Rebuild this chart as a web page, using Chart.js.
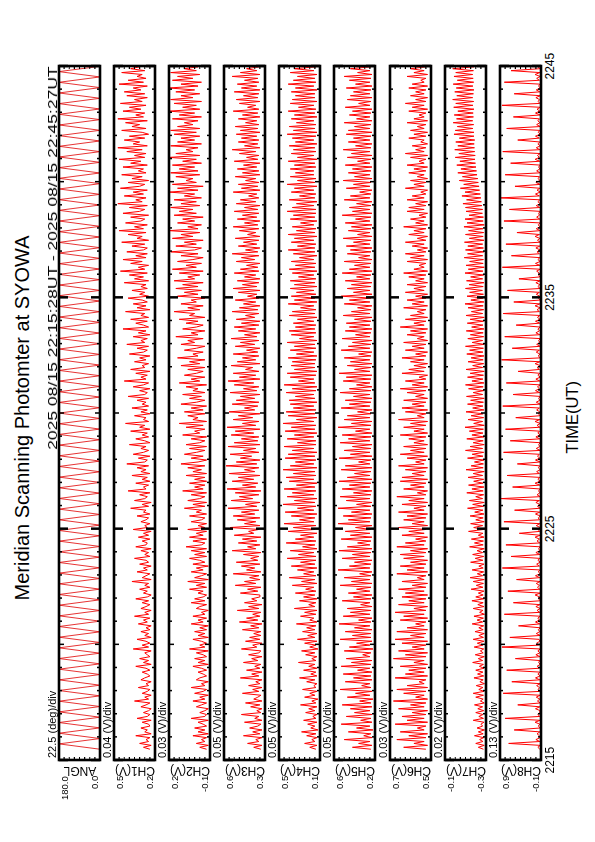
<!DOCTYPE html>
<html><head><meta charset="utf-8">
<script src="https://cdn.jsdelivr.net/npm/chart.js@4.4.1/dist/chart.umd.min.js"></script>
<style>
html,body{margin:0;padding:0;background:#fff;}
body{width:595px;height:842px;overflow:hidden;position:relative;}
#land{position:absolute;left:0;top:842px;width:842px;height:595px;transform-origin:0 0;transform:rotate(-90deg);font-family:"Liberation Sans",Arial,Helvetica,sans-serif;}
.t{position:absolute;white-space:nowrap;color:#000;line-height:1;}
canvas{position:absolute;}
</style></head><body><div id="land"></div>
<script>
// ---------- texts ----------
const TITLE = 'Meridian Scanning Photomter at SYOWA';
const PERIOD_TEXT = '2025 08/15 22:15:28UT - 2025 08/15 22:45:27UT';
const X_TITLE = 'TIME(UT)';
const TIME_TICKS = [0, 10, 20, 30];            // minutes after 22:15
const TIME_LABELS = ['2215', '2225', '2235', '2245'];
const CHANNELS = ['ANGL', 'CH1(V)', 'CH2(V)', 'CH3(V)', 'CH4(V)', 'CH5(V)', 'CH6(V)', 'CH7(V)', 'CH8(V)'];
const DIV_LABELS = ['22.5 (deg)/div', '0.04 (V)/div', '0.03 (V)/div', '0.05 (V)/div', '0.05 (V)/div', '0.05 (V)/div', '0.03 (V)/div', '0.02 (V)/div', '0.13 (V)/div'];
const TOP_LABELS = ['180.0', '0.5', '0.2', '0.6', '0.5', '0.6', '0.7', '-0.1', '0.9'];
const BOTTOM_LABELS = ['0.0', '0.2', '-0.1', '0.3', '0.1', '0.2', '0.5', '-0.3', '-0.1'];
const Y_MIN = [0, 0.19, -0.05, 0.24, 0.11, 0.20, 0.48, -0.29, -0.10];
const Y_MAX = [180, 0.51, 0.19, 0.64, 0.51, 0.60, 0.72, -0.13, 0.94];

// ---------- timing (minutes after 22:15) ----------
const SCAN_START = 28 / 60;        // 22:15:28
const SCAN_END = 30 + 27 / 60;     // 22:45:27
const SAMPLE_STEP = 5 / 60;        // photometer samples every 5 s

// ---------- data ----------
// scan angle turning points (deg), one per half scan
const ANGL_TURNS = [0,180,0,180,0,180,0,180,0,180,0,180,0,180,0,180,0,180,0,180,
0,180,0,180,0,180,0,180,0,180,0,180,0,180,0,180,0,180,0,180,
0,180,0,180,0,180,0,180,0,180,0,180,0,180,0,180,0,180,0,180,
0,180,0,180,0,180,0,180,0,180,0,180,0,180,0,180,0,180,0,180,
0,180,0,180,0,180,0,180,0,180,0,180,0,180,0,180,0,180,0,180,
0,180,0,180,0,180,0,180,0,180,0,180,0,180,0,180,0,180,0,180,
0,180,0,180,0,180,0,180,0,180,0];

const CH1 = [.23,.28,.22,.31,.24,.26,.23,.34,.22,.27,.25,.30,.23,.24,.29,.22,.33,.25,.23,.28,
.24,.22,.30,.26,.23,.35,.24,.27,.22,.29,.25,.23,.32,.24,.26,.22,.30,.27,.23,.25,
.29,.23,.26,.34,.22,.28,.24,.31,.23,.25,.27,.22,.36,.24,.29,.23,.26,.33,.22,.27,
.24,.30,.23,.26,.22,.32,.25,.28,.23,.35,.24,.27,.22,.30,.26,.23,.29,.24,.34,.25,
.22,.28,.25,.31,.23,.27,.24,.37,.22,.29,.26,.23,.33,.25,.28,.22,.31,.24,.26,.35,
.23,.27,.24,.30,.22,.34,.26,.25,.29,.23,.32,.24,.28,.22,.36,.25,.27,.23,.30,.26,
.24,.33,.23,.28,.26,.38,.24,.29,.22,.35,.27,.25,.31,.23,.40,.26,.28,.24,.34,.23,
.29,.25,.37,.23,.30,.26,.33,.24,.41,.27,.25,.32,.23,.36,.28,.24,.30,.26,.39,.23,
.27,.34,.24,.29,.25,.38,.23,.31,.27,.42,.24,.28,.26,.35,.23,.30,.25,.37,.24,.29,
.26,.33,.24,.40,.27,.25,.31,.23,.36,.28,.24,.43,.26,.30,.25,.34,.23,.38,.27,.29,
.24,.35,.26,.31,.23,.39,.28,.25,.33,.24,.41,.27,.30,.25,.36,.23,.32,.26,.44,.24,
.28,.34,.25,.38,.24,.30,.27,.42,.23,.33,.26,.36,.25,.29,.40,.24,.31,.27,.37,.25,
.30,.26,.43,.24,.35,.28,.39,.25,.46,.27,.32,.24,.38,.29,.44,.26,.34,.25,.41,.28,
.25,.37,.27,.45,.24,.33,.29,.40,.26,.47,.28,.35,.25,.42,.30,.27,.38,.24,.44,.31,
.27,.39,.25,.48,.29,.34,.26,.43,.28,.36,.25,.46,.31,.27,.40,.24,.37,.29,.45,.26,
.32,.28,.44,.25,.38,.30,.47,.27,.35,.26,.41,.29,.48,.25,.36,.31,.43,.27,.39,.24,
.29,.45,.26,.37,.31,.42,.25,.48,.28,.34,.27,.44,.30,.39,.26,.46,.29,.35,.25,.41,
.27,.43,.30,.36,.25,.47,.28,.40,.26,.33,.29,.45,.27,.38,.31,.42,.26,.37,.28,.44];

const CH2 = [-.03,.01,-.04,.03,-.02,.00,-.03,.05,-.04,.02,-.02,.04,-.03,-.01,.02,-.04,.06,-.02,-.03,.01,
-.02,-.04,.03,.00,-.03,.05,-.02,.01,-.04,.04,-.01,-.03,.06,-.02,.00,-.04,.03,.01,-.03,-.01,
.02,-.03,.00,.05,-.04,.02,-.02,.04,-.03,-.01,.03,-.04,.07,-.02,.01,-.03,.00,.05,-.04,.02,
-.02,.04,-.03,.01,-.04,.06,-.01,.02,-.03,.05,-.02,.00,-.04,.03,.01,-.03,.06,-.02,.04,-.01,
-.03,.02,-.01,.07,-.03,.03,-.02,.08,-.04,.04,.00,-.03,.06,-.01,.03,-.04,.05,-.02,.01,.07,
-.03,.04,-.02,.06,-.03,.09,.00,-.02,.05,-.03,.07,-.01,.03,-.03,.08,-.02,.02,-.03,.06,.00,
-.02,.07,-.03,.03,.00,.10,-.02,.05,-.03,.08,.01,-.02,.06,-.03,.11,-.01,.04,-.02,.07,-.03,
.04,-.02,.09,-.03,.05,.00,.08,-.02,.12,.02,-.03,.06,-.01,.10,.03,-.02,.07,-.03,.09,.01,
-.02,.06,-.03,.11,.01,.04,-.02,.09,-.01,.13,-.03,.05,.02,.08,-.02,.10,-.01,.06,-.03,.12,
.03,-.02,.07,.00,.11,-.02,.05,.02,.09,-.03,.13,.01,.06,-.02,.10,.03,-.01,.08,-.02,.12,
.01,.07,-.02,.14,.02,.05,-.01,.10,.03,-.02,.12,.04,.08,-.01,.15,.02,.06,-.02,.11,.03,
-.01,.09,.02,.13,-.02,.07,.04,.16,.01,.08,-.01,.12,.03,.06,-.02,.14,.02,.10,.00,.15,
.02,.11,-.01,.16,.04,.08,.01,.13,-.01,.17,.03,.09,.00,.14,.05,-.01,.12,.02,.18,.04,
.00,.15,.03,.10,-.01,.17,.05,.12,.01,.19,.02,.08,.00,.14,.04,.11,-.01,.16,.03,.13,
.05,.18,.01,.12,.03,.16,.00,.10,.04,.19,.02,.14,-.01,.17,.03,.09,.05,.15,.01,.18,
.02,.13,.04,.17,.00,.11,.03,.19,.01,.15,.05,.09,.02,.18,.00,.14,.04,.12,.01,.16,
.03,.18,.01,.14,.05,.10,.02,.17,.00,.13,.04,.19,.01,.11,.03,.16,.00,.18,.05,.12,
.01,.15,.04,.19,.02,.12,.00,.17,.05,.14,.01,.18,.03,.10,.02,.16,.04,.13,.00,.17];

const CH3 = [.28,.35,.27,.41,.30,.33,.27,.45,.29,.36,.27,.39,.31,.28,.44,.27,.34,.30,.47,.28,
.32,.27,.38,.29,.43,.27,.35,.31,.28,.46,.30,.36,.27,.40,.29,.33,.27,.48,.30,.37,
.27,.42,.29,.34,.28,.45,.31,.37,.27,.40,.30,.28,.47,.32,.36,.27,.43,.29,.39,.28,
.35,.28,.46,.30,.38,.27,.49,.31,.42,.29,.36,.28,.51,.30,.40,.27,.44,.32,.37,.29,
.29,.48,.31,.41,.28,.53,.33,.44,.29,.39,.30,.55,.28,.42,.34,.47,.29,.52,.31,.38,
.30,.45,.28,.56,.33,.41,.29,.50,.32,.46,.28,.54,.35,.40,.30,.58,.29,.44,.33,.51,
.29,.55,.34,.47,.30,.60,.32,.43,.29,.57,.36,.49,.30,.53,.28,.61,.33,.46,.31,.56,
.35,.50,.29,.59,.34,.44,.30,.62,.32,.52,.29,.48,.37,.58,.30,.45,.33,.60,.29,.54,
.31,.47,.30,.57,.35,.53,.29,.61,.33,.46,.30,.55,.36,.50,.29,.59,.34,.44,.31,.56,
.30,.52,.34,.48,.29,.58,.32,.45,.30,.54,.35,.60,.29,.49,.33,.55,.30,.43,.36,.57,
.29,.51,.33,.46,.30,.55,.31,.42,.29,.53,.34,.48,.30,.57,.32,.44,.29,.50,.33,.54,
.30,.47,.29,.52,.34,.43,.30,.56,.31,.49,.29,.45,.33,.53,.30,.41,.32,.50,.29,.55,
.32,.46,.30,.51,.29,.44,.33,.54,.30,.48,.31,.42,.29,.52,.34,.47,.30,.56,.31,.43,
.29,.50,.32,.45,.30,.53,.29,.41,.33,.49,.30,.55,.31,.44,.29,.51,.32,.46,.30,.54,
.31,.44,.29,.52,.33,.48,.30,.40,.32,.55,.29,.47,.31,.50,.30,.43,.33,.53,.29,.46,
.30,.51,.32,.45,.29,.54,.31,.42,.30,.49,.33,.56,.29,.44,.31,.50,.30,.47,.32,.52,
.29,.48,.31,.53,.30,.43,.32,.50,.29,.46,.31,.55,.30,.41,.33,.49,.29,.52,.31,.45,
.30,.54,.29,.47,.32,.51,.30,.44,.31,.56,.29,.48,.32,.42,.30,.53,.31,.46,.29,.50];

const CH4 = [.15,.21,.14,.26,.16,.19,.14,.24,.15,.29,.13,.20,.16,.23,.14,.27,.15,.18,.14,.25,
.16,.22,.14,.30,.15,.19,.13,.26,.16,.21,.14,.28,.15,.17,.14,.24,.16,.31,.14,.20,
.15,.27,.14,.22,.16,.32,.15,.19,.14,.25,.16,.29,.13,.21,.15,.26,.14,.33,.16,.23,
.14,.28,.16,.24,.15,.34,.14,.21,.17,.30,.15,.26,.14,.36,.16,.22,.15,.31,.14,.27,
.16,.35,.15,.25,.17,.38,.14,.29,.16,.41,.15,.27,.17,.33,.14,.39,.16,.30,.15,.43,
.15,.32,.17,.40,.14,.28,.16,.44,.15,.35,.17,.30,.14,.42,.16,.37,.15,.46,.17,.31,
.16,.39,.14,.45,.17,.33,.15,.47,.16,.36,.14,.43,.17,.38,.15,.46,.16,.34,.14,.41,
.17,.44,.15,.37,.16,.47,.14,.40,.17,.35,.15,.45,.16,.42,.14,.38,.17,.46,.15,.33,
.15,.43,.17,.36,.14,.45,.16,.39,.15,.47,.17,.34,.14,.42,.16,.44,.15,.37,.17,.40,
.14,.41,.16,.35,.17,.44,.15,.38,.14,.46,.16,.32,.17,.40,.15,.43,.14,.36,.16,.39,
.16,.38,.15,.42,.14,.34,.17,.40,.15,.36,.16,.43,.14,.31,.17,.39,.15,.41,.16,.35,
.15,.37,.17,.33,.14,.41,.16,.38,.15,.30,.17,.42,.14,.36,.16,.39,.15,.34,.17,.40,
.14,.36,.16,.40,.15,.32,.17,.38,.14,.41,.16,.35,.15,.39,.17,.31,.14,.37,.16,.42,
.16,.33,.15,.39,.17,.36,.14,.42,.16,.34,.15,.38,.17,.30,.14,.40,.16,.37,.15,.43,
.15,.38,.17,.34,.14,.41,.16,.31,.15,.39,.17,.36,.14,.43,.16,.33,.15,.40,.17,.35,
.17,.40,.15,.36,.16,.42,.14,.33,.17,.39,.15,.37,.16,.41,.14,.35,.17,.38,.15,.43,
.14,.37,.16,.41,.15,.34,.17,.39,.14,.36,.16,.42,.15,.32,.17,.40,.14,.38,.16,.35,
.16,.39,.14,.35,.17,.42,.15,.37,.16,.33,.14,.40,.17,.36,.15,.41,.16,.34,.14,.38];

const CH5 = [.24,.42,.23,.36,.25,.50,.23,.31,.24,.46,.22,.38,.25,.53,.23,.34,.24,.48,.23,.40,
.25,.44,.23,.52,.24,.35,.22,.47,.25,.39,.23,.54,.24,.33,.25,.49,.23,.41,.24,.51,
.23,.37,.25,.53,.24,.43,.23,.48,.25,.32,.24,.50,.22,.45,.25,.38,.23,.54,.24,.42,
.24,.49,.23,.40,.25,.55,.24,.36,.23,.51,.25,.44,.24,.47,.23,.34,.25,.52,.24,.41,
.23,.46,.25,.38,.24,.54,.23,.43,.25,.50,.24,.35,.23,.56,.25,.45,.24,.40,.23,.52,
.25,.42,.24,.55,.23,.47,.25,.37,.24,.53,.23,.44,.25,.49,.24,.39,.23,.56,.25,.46,
.24,.51,.23,.43,.25,.56,.24,.38,.23,.48,.25,.54,.24,.41,.23,.52,.25,.45,.24,.55,
.23,.47,.25,.40,.24,.53,.23,.49,.25,.36,.24,.55,.23,.44,.25,.50,.24,.42,.23,.54,
.25,.46,.24,.52,.23,.39,.25,.56,.24,.43,.23,.50,.25,.47,.24,.37,.23,.53,.25,.45,
.24,.49,.23,.41,.25,.54,.24,.45,.23,.38,.25,.51,.24,.48,.23,.55,.25,.40,.24,.47,
.23,.44,.25,.50,.24,.36,.23,.53,.25,.46,.24,.42,.23,.52,.25,.39,.24,.49,.23,.45,
.25,.48,.24,.40,.23,.51,.25,.43,.24,.37,.23,.50,.25,.45,.24,.53,.23,.41,.25,.47,
.24,.43,.23,.49,.25,.38,.24,.52,.23,.45,.25,.40,.24,.50,.23,.36,.25,.47,.24,.44,
.23,.48,.25,.41,.24,.51,.23,.37,.25,.46,.24,.43,.23,.49,.25,.39,.24,.52,.23,.42,
.25,.45,.24,.38,.23,.50,.25,.44,.24,.35,.23,.48,.25,.41,.24,.51,.23,.40,.25,.46,
.24,.42,.23,.49,.25,.37,.24,.47,.23,.43,.25,.51,.24,.39,.23,.46,.25,.41,.24,.48,
.23,.46,.25,.40,.24,.50,.23,.38,.25,.45,.24,.42,.23,.49,.25,.36,.24,.47,.23,.44,
.25,.41,.24,.48,.23,.39,.25,.45,.24,.50,.23,.37,.25,.44,.24,.47,.23,.40,.25,.46];

const CH6 = [.51,.64,.50,.58,.52,.68,.51,.61,.50,.66,.52,.56,.51,.69,.50,.62,.52,.65,.51,.59,
.50,.67,.52,.60,.51,.70,.50,.57,.52,.64,.51,.68,.50,.62,.52,.55,.51,.69,.50,.63,
.52,.61,.51,.66,.50,.58,.52,.70,.51,.63,.50,.67,.52,.59,.51,.65,.50,.69,.52,.60,
.51,.68,.50,.62,.52,.57,.51,.66,.50,.64,.52,.69,.51,.58,.50,.67,.52,.61,.51,.65,
.50,.63,.52,.67,.51,.59,.50,.65,.52,.56,.51,.68,.50,.62,.52,.66,.51,.60,.50,.64,
.52,.66,.51,.60,.50,.68,.52,.63,.51,.57,.50,.65,.52,.61,.51,.67,.50,.59,.52,.64,
.51,.62,.50,.67,.52,.58,.51,.65,.50,.61,.52,.68,.51,.56,.50,.64,.52,.60,.51,.66,
.50,.65,.52,.59,.51,.63,.50,.67,.52,.57,.51,.62,.50,.66,.52,.60,.51,.64,.50,.58,
.52,.61,.51,.66,.50,.58,.52,.64,.51,.60,.50,.67,.52,.56,.51,.63,.50,.65,.52,.59,
.51,.64,.50,.57,.52,.62,.51,.66,.50,.59,.52,.63,.51,.55,.50,.65,.52,.61,.51,.58,
.50,.60,.52,.65,.51,.57,.50,.63,.52,.59,.51,.64,.50,.56,.52,.62,.51,.60,.50,.66,
.52,.58,.51,.63,.50,.60,.52,.56,.51,.64,.50,.59,.52,.62,.51,.57,.50,.63,.52,.58,
.51,.62,.50,.57,.52,.61,.51,.64,.50,.58,.52,.55,.51,.62,.50,.60,.52,.63,.51,.56,
.50,.59,.52,.63,.51,.56,.50,.61,.52,.58,.51,.64,.50,.57,.52,.60,.51,.55,.50,.62,
.52,.61,.51,.57,.50,.62,.52,.59,.51,.54,.50,.63,.52,.58,.51,.60,.50,.56,.52,.61,
.51,.58,.50,.62,.52,.55,.51,.60,.50,.63,.52,.57,.51,.59,.50,.54,.52,.61,.51,.58,
.50,.60,.52,.56,.51,.62,.50,.58,.52,.55,.51,.61,.50,.59,.52,.63,.51,.57,.50,.60,
.52,.57,.51,.61,.50,.59,.52,.54,.51,.62,.50,.58,.52,.60,.51,.56,.50,.61,.52,.59];

const CH7 = [-.28,-.26,-.283,-.25,-.278,-.265,-.281,-.245,-.279,-.26,-.284,-.255,-.277,-.27,-.282,-.24,-.28,-.262,-.278,-.25,
-.281,-.258,-.277,-.245,-.283,-.268,-.279,-.25,-.28,-.24,-.282,-.262,-.278,-.252,-.284,-.266,-.279,-.243,-.281,-.257,
-.278,-.25,-.282,-.264,-.28,-.238,-.277,-.26,-.283,-.248,-.279,-.268,-.281,-.244,-.278,-.256,-.282,-.24,-.28,-.262,
-.283,-.247,-.279,-.262,-.281,-.236,-.277,-.255,-.28,-.243,-.284,-.265,-.278,-.24,-.282,-.258,-.279,-.235,-.281,-.25,
-.279,-.26,-.282,-.232,-.278,-.252,-.28,-.24,-.283,-.228,-.277,-.256,-.281,-.236,-.279,-.262,-.282,-.23,-.278,-.248,
-.281,-.238,-.277,-.255,-.283,-.226,-.279,-.245,-.28,-.233,-.282,-.26,-.278,-.222,-.281,-.242,-.277,-.23,-.283,-.25,
-.279,-.228,-.282,-.246,-.278,-.218,-.28,-.238,-.283,-.225,-.277,-.25,-.281,-.215,-.279,-.235,-.282,-.222,-.278,-.242,
-.281,-.22,-.277,-.24,-.283,-.212,-.279,-.232,-.28,-.245,-.282,-.218,-.278,-.236,-.281,-.21,-.277,-.228,-.283,-.24,
-.279,-.215,-.282,-.235,-.278,-.225,-.28,-.208,-.283,-.242,-.277,-.22,-.281,-.232,-.279,-.212,-.282,-.238,-.278,-.218,
-.28,-.23,-.283,-.214,-.277,-.24,-.281,-.222,-.279,-.21,-.282,-.235,-.278,-.218,-.28,-.228,-.283,-.212,-.277,-.238,
-.281,-.22,-.279,-.232,-.282,-.215,-.278,-.226,-.28,-.21,-.283,-.236,-.277,-.219,-.281,-.229,-.279,-.213,-.282,-.234,
-.278,-.217,-.28,-.228,-.283,-.212,-.277,-.233,-.281,-.22,-.279,-.208,-.282,-.231,-.278,-.216,-.28,-.226,-.276,-.21,
-.279,-.224,-.282,-.214,-.277,-.23,-.281,-.208,-.278,-.221,-.283,-.212,-.279,-.226,-.28,-.205,-.277,-.218,-.282,-.21,
-.28,-.219,-.277,-.206,-.282,-.225,-.279,-.21,-.281,-.222,-.278,-.204,-.283,-.216,-.279,-.208,-.28,-.224,-.276,-.212,
-.277,-.21,-.274,-.2,-.272,-.214,-.27,-.196,-.268,-.208,-.265,-.19,-.263,-.203,-.26,-.186,-.258,-.198,-.255,-.18,
-.253,-.192,-.251,-.176,-.249,-.188,-.247,-.17,-.248,-.184,-.246,-.168,-.245,-.18,-.244,-.172,-.246,-.186,-.243,-.165,
-.243,-.17,-.239,-.178,-.242,-.162,-.238,-.175,-.241,-.166,-.24,-.18,-.243,-.164,-.239,-.172,-.242,-.16,-.238,-.176,
-.241,-.168,-.243,-.174,-.239,-.162,-.242,-.178,-.24,-.165,-.238,-.172,-.241,-.16,-.243,-.176,-.239,-.166,-.242,-.17];

const CH8 = [-.07,-.02,-.08,.72,-.07,.03,-.08,-.06,.00,-.07,.58,-.08,-.03,-.07,.05,-.08,.81,-.07,-.02,-.06,
-.08,.04,-.07,.49,-.08,-.01,-.07,.02,-.08,.86,-.07,-.03,-.06,.01,-.08,.64,-.07,.04,-.08,-.02,
-.07,.77,-.06,.00,-.08,-.04,-.07,.55,-.08,.03,-.07,-.02,-.08,.89,-.06,.01,-.07,-.05,.69,-.08,
.02,-.07,-.03,-.08,.47,-.07,.04,-.06,-.02,-.08,.83,-.07,.00,-.08,.03,-.07,.60,-.08,-.04,-.07,
.05,-.08,.74,-.07,-.01,-.06,.02,-.08,.52,-.07,.04,-.08,-.03,-.07,.88,-.06,.01,-.08,-.02,-.07,
.66,-.08,.03,-.07,-.04,-.08,.79,-.07,.00,-.06,.05,-.08,.45,-.07,-.02,-.08,.02,-.07,.84,-.06,
-.03,-.08,.04,-.07,.57,-.08,-.01,-.07,.03,-.06,.91,-.08,.00,-.07,-.04,-.08,.62,-.07,.05,-.08,
-.02,-.07,.76,-.06,.01,-.08,-.03,-.07,.50,-.08,.04,-.07,-.01,-.06,.85,-.08,.02,-.07,-.04,-.08,
.68,-.07,.03,-.08,-.02,-.06,.80,-.07,.00,-.08,.05,-.07,.54,-.08,-.03,-.07,.01,-.06,.87,-.08,
.02,-.07,-.04,-.08,.61,-.07,.04,-.06,-.01,-.08,.78,-.07,.03,-.08,-.02,-.07,.48,-.06,.00,-.08,
.05,-.07,.90,-.08,-.03,-.07,.02,-.06,.63,-.08,.01,-.07,-.04,-.08,.82,-.07,.03,-.06,-.02,-.08,
.53,-.07,.04,-.08,-.01,-.07,.86,-.06,.00,-.08,.05,-.07,.59,-.08,-.03,-.07,.02,-.06,.75,-.08,
-.02,-.07,.03,-.08,.46,-.07,-.04,-.06,.01,-.08,.88,-.07,.04,-.08,-.02,-.07,.65,-.06,.00,-.08,
.03,-.07,.79,-.08,-.01,-.07,.05,-.06,.51,-.08,.02,-.07,-.03,-.08,.84,-.07,.01,-.06,-.04,-.08,
.70,-.07,.02,-.08,-.02,-.07,.92,-.06,.04,-.08,.00,-.07,.56,-.08,.03,-.07,-.03,-.06,.81,-.08,
.01,-.07,-.04,-.08,.67,-.07,.05,-.06,-.01,-.08,.87,-.07,.02,-.08,-.02,-.07,.49,-.06,.04,-.08,
-.03,-.07,.77,-.08,.01,-.07,-.02,-.06,.60,-.08,.04,-.07,.00,-.08,.89,-.07,-.03,-.06,.03,-.08,
.58,-.07,.02,-.08,-.04,-.07,.83,-.06,.01,-.08,.05,-.07,.66,-.08,-.02,-.07,.03,-.06,.74,-.08];

const SERIES = [ANGL_TURNS, CH1, CH2, CH3, CH4, CH5, CH6, CH7, CH8];

// ---------- layout (landscape frame, rotated onto the page) ----------
const PLOT_LEFT = 82, PLOT_WIDTH = 694, PANEL_H = 41;
const PANEL_TOP = [59, 114, 169, 224, 279, 334, 390, 445, 500];
const PAD = 2;
const land = document.getElementById('land');

function seriesFor(k) {
  const v = SERIES[k];
  if (k === 0) {
    const half = (SCAN_END - SCAN_START) / (v.length - 1);
    return v.map((a, i) => ({x: SCAN_START + i * half, y: a}));
  }
  return v.map((a, i) => ({x: SCAN_START + i * SAMPLE_STEP, y: a}));
}

const framePlugin = {
  id: 'frame',
  afterDatasetsDraw(chart) {
    const {ctx, chartArea: a, scales: {x, y}} = chart;
    ctx.save();
    ctx.strokeStyle = '#000';
    for (let m = 0; m <= 30; m++) {
      const px = x.getPixelForValue(m);
      const len = m % 10 === 0 ? 9 : (m % 5 === 0 ? 5 : 3);
      ctx.lineWidth = m % 10 === 0 ? 2.5 : 1.5;
      ctx.beginPath();
      ctx.moveTo(px, a.top); ctx.lineTo(px, a.top + len);
      ctx.moveTo(px, a.bottom); ctx.lineTo(px, a.bottom - len);
      ctx.stroke();
    }
    const mn = y.min, mx = y.max, st = (mx - mn) / 8;
    ctx.lineWidth = 1.2;
    for (let k = 1; k < 8; k++) {
      const py = y.getPixelForValue(mn + k * st);
      ctx.beginPath();
      ctx.moveTo(a.left, py); ctx.lineTo(a.left + 3, py);
      ctx.moveTo(a.right, py); ctx.lineTo(a.right - 3, py);
      ctx.stroke();
    }
    ctx.lineWidth = 2.6;
    ctx.strokeRect(a.left, a.top, a.width, a.height);
    ctx.restore();
  }
};

function addText(str, size, x, baseline, align, extra) {
  const el = document.createElement('div');
  el.className = 't';
  el.textContent = str;
  el.style.fontSize = size + 'px';
  land.appendChild(el);
  const w = el.offsetWidth;
  let left = x;
  if (align === 'center') left = x - w / 2;
  if (align === 'right') left = x - w;
  el.style.left = left + 'px';
  el.style.top = (baseline - 0.8465 * size) + 'px';
  if (extra) extra(el, w);
  return el;
}

const charts = [];
for (let k = 0; k < 9; k++) {
  const cv = document.createElement('canvas');
  cv.width = PLOT_WIDTH + 2 * PAD; cv.height = PANEL_H + 2 * PAD;
  cv.style.left = (PLOT_LEFT - PAD) + 'px';
  cv.style.top = (PANEL_TOP[k] - PAD) + 'px';
  cv.style.width = cv.width + 'px'; cv.style.height = cv.height + 'px';
  land.appendChild(cv);
  charts.push(new Chart(cv.getContext('2d'), {
    type: 'line',
    data: {datasets: [{data: seriesFor(k), borderColor: k === 0 ? '#e00000' : '#ff0000', borderWidth: k === 0 ? 0.8 : 1, pointRadius: 0, tension: 0, fill: false}]},
    options: {
      animation: false, responsive: false, events: [], parsing: false,
      layout: {padding: PAD},
      plugins: {legend: {display: false}, tooltip: {enabled: false}, title: {display: false}},
      scales: {
        x: {type: 'linear', min: TIME_TICKS[0], max: TIME_TICKS[TIME_TICKS.length - 1], display: false},
        y: {type: 'linear', min: Y_MIN[k], max: Y_MAX[k], display: false}
      }
    },
    plugins: [framePlugin]
  }));

  const T = PANEL_TOP[k];
  addText(DIV_LABELS[k], 11, 84, T - 3, 'left');
  addText(TOP_LABELS[k], 9.5, 66, T + 9.5, 'right');
  addText(BOTTOM_LABELS[k], 9.5, 66, T + 39.3, 'right');
  const lab = document.createElement('div');
  lab.className = 't';
  lab.textContent = CHANNELS[k];
  lab.style.fontSize = '12px';
  lab.style.left = '71px';
  lab.style.top = (T + PANEL_H / 2) + 'px';
  lab.style.transform = 'translate(-50%,-50%) rotate(-90deg)';
  land.appendChild(lab);
}

// title, period, axis labels
addText(TITLE, 20, 424, 28.5, 'center');
addText(PERIOD_TEXT, 12, 776, 57.5, 'right', (el, w) => {
  el.style.transformOrigin = '100% 50%';
  el.style.transform = 'scaleX(' + (384 / w) + ')';
});
const last = charts[charts.length - 1];
TIME_TICKS.forEach((v, i) => {
  const px = PLOT_LEFT - PAD + last.scales.x.getPixelForValue(v);
  addText(TIME_LABELS[i], 12, px, 554, 'center');
});
addText(X_TITLE, 16.5, 424.5, 578, 'center');
</script>
</body></html>
